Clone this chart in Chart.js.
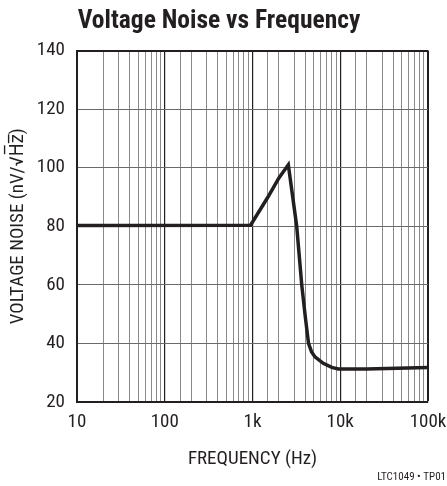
<!DOCTYPE html>
<html>
<head>
<meta charset="utf-8">
<script src="https://cdn.jsdelivr.net/npm/chart.js@4.4.0/dist/chart.umd.min.js"></script>
<style>
  html, body { margin: 0; padding: 0; background: #fff; }
  #wrap { width: 447px; height: 486px; position: relative; }
</style>
</head>
<body>
<div id="wrap"><canvas id="noise-chart"></canvas></div>
<script>
// data (Hz, nV/rtHz)
const freqs = [10, 950, 1500, 2000, 2560, 3190, 3640, 4000, 4350, 4700, 5150, 6400, 8000, 9500, 20000, 100000];
const noise = [80.3, 80.4, 90, 96.5, 101, 80, 60, 49, 40, 37.2, 35.4, 33.2, 31.8, 31.3, 31.3, 31.8];

const xTickValues = [10, 100, 1000, 10000, 100000];
const xTickText = ["10", "100", "1k", "10k", "100k"];
const yMin = 20;
const yMax = 140;
const yStep = 20;

const FONT = "'Roboto Condensed', 'DejaVu Sans Condensed', sans-serif";
const INK = "#231f20";

Chart.defaults.font.family = FONT;
Chart.defaults.color = INK;

const isDecade = (v) => xTickValues.includes(v);

// small footnote in the lower right corner
const footnote = {
  id: "footnote",
  afterDraw(chart) {
    const ctx = chart.ctx;
    ctx.save();
    ctx.font = "11px " + FONT;
    ctx.fillStyle = INK;
    ctx.textAlign = "right";
    ctx.textBaseline = "middle";
    ctx.fillText("LTC1049 \u2022 TP01", 446, 477);
    ctx.restore();
  },
};

const noiseChart = document.getElementById("noise-chart");

new Chart(noiseChart, {
  type: "line",
  data: {
    datasets: [
      {
        data: freqs.map((f, i) => ({ x: f, y: noise[i] })),
        borderColor: INK,
        borderWidth: 3.5,
        pointRadius: 0,
        tension: 0,
        fill: false,
      },
    ],
  },
  options: {
    responsive: true,
    maintainAspectRatio: false,
    animation: false,
    layout: { padding: { top: 6, left: 10, right: 19, bottom: 0 } },
    scales: {
      x: {
        type: "logarithmic",
        min: 10,
        max: 100000,
        afterFit: (scale) => {
          scale.height = 84;
          scale.paddingRight = 0;
        },
        border: { display: true, color: INK, width: 2 },
        grid: {
          drawTicks: false,
          color: (ctx) => (isDecade(ctx.tick.value) ? INK : "#8a8a8a"),
          lineWidth: (ctx) => (ctx.tick.value === 100000 ? 2 : isDecade(ctx.tick.value) ? 1.2 : 1),
        },
        ticks: {
          autoSkip: false,
          maxRotation: 0,
          padding: 8.5,
          font: { size: 19 },
          callback: (value) => {
            const i = xTickValues.indexOf(value);
            return i >= 0 ? xTickText[i] : "";
          },
        },
        title: {
          display: true,
          text: "FREQUENCY (Hz)",
          font: { size: 19 },
          padding: { top: 0, bottom: 15.1 },
        },
      },
      y: {
        min: yMin,
        max: yMax,
        afterFit: (scale) => {
          scale.width = 67;
        },
        border: { display: true, color: INK, width: 2 },
        grid: {
          drawTicks: false,
          color: (ctx) => (ctx.tick.value === yMax ? INK : "#6a6a6a"),
          lineWidth: (ctx) => (ctx.tick.value === yMax ? 2 : 1),
        },
        ticks: {
          stepSize: yStep,
          padding: 12,
          font: { size: 19 },
        },
        title: {
          display: true,
          text: "VOLTAGE NOISE (nV/\u221AH\u0305z\u0305)",
          font: { size: 19 },
          padding: { top: -3.4, bottom: 0 },
        },
      },
    },
    plugins: {
      legend: { display: false },
      tooltip: { enabled: false },
      title: {
        display: true,
        text: "Voltage Noise vs Frequency",
        font: { size: 25.5, weight: "bold" },
        color: INK,
        padding: { top: 0, bottom: 14 },
      },
    },
  },
  plugins: [footnote],
});
</script>
</body>
</html>
